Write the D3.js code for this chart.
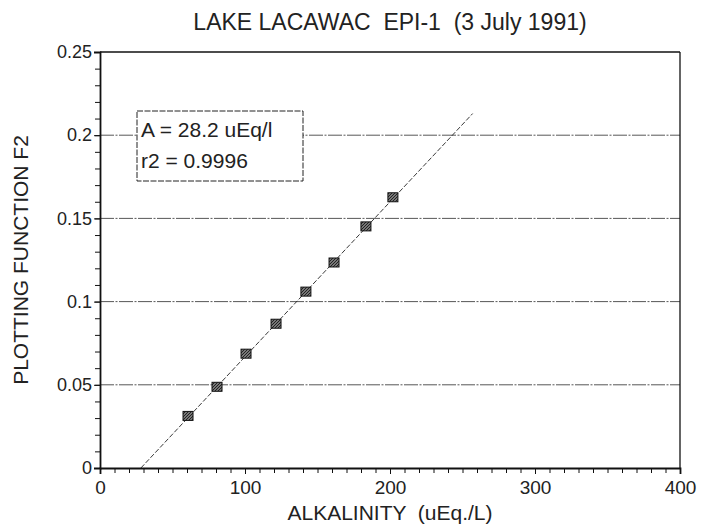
<!DOCTYPE html>
<html>
<head>
<meta charset="utf-8">
<script src="https://cdn.jsdelivr.net/npm/d3@7"></script>
<style>
  body { margin: 0; background: #fff; }
  text { font-family: "Liberation Sans", Arial, sans-serif; fill: #222; }
  .axis path, .axis line { stroke: #111; }
  .axis text { font-size: 19px; }
</style>
</head>
<body>
<div id="chart"></div>
<script>
var margin = { top: 52, right: 23, bottom: 61, left: 100 };
var w = 703, h = 529;

// data
var alkalinity = [60.7, 80.7, 100.7, 121.4, 142, 161.4, 183.4, 202];
var f2 = [0.0313, 0.0488, 0.0687, 0.0867, 0.106, 0.1235, 0.1452, 0.1627];
var fitX = [28.2, 257];
var fitY = [0, 0.213];
var xTicks = [0, 100, 200, 300, 400];
var yTicks = [0, 0.05, 0.1, 0.15, 0.2, 0.25];
var yTickLabels = ["0", "0.05", "0.1", "0.15", "0.2", "0.25"];
var gridY = [0.05, 0.1, 0.15, 0.2];
var legendLines = ["A = 28.2 uEq/l", "r2 = 0.9996"];

var svg = d3.select("#chart").append("svg")
  .attr("width", w)
  .attr("height", h);

// hatched fill for the markers
var pat = svg.append("defs").append("pattern")
  .attr("id", "hatch")
  .attr("patternUnits", "userSpaceOnUse")
  .attr("width", 3)
  .attr("height", 3);
pat.append("rect").attr("width", 3).attr("height", 3).attr("fill", "#777");
pat.append("path").attr("d", "M0,3L3,0").attr("stroke", "#222").attr("stroke-width", 1);

var xScale = d3.scaleLinear()
  .domain([0, 400])
  .range([margin.left, w - margin.right]);
var yScale = d3.scaleLinear()
  .domain([0, 0.25])
  .range([h - margin.bottom, margin.top]);

// grid lines
svg.selectAll(".grid")
  .data(gridY)
  .enter()
  .append("line")
  .attr("class", "grid")
  .attr("x1", xScale(0))
  .attr("x2", xScale(400))
  .attr("y1", function(d) { return yScale(d); })
  .attr("y2", function(d) { return yScale(d); })
  .attr("stroke", "#444")
  .attr("stroke-width", 0.9)
  .attr("stroke-dasharray", "14,1.5,2,1.5");

// frame top / right
svg.append("line")
  .attr("x1", xScale(0)).attr("x2", xScale(400))
  .attr("y1", yScale(0.25)).attr("y2", yScale(0.25))
  .attr("stroke", "#111").attr("stroke-width", 1.3);
svg.append("line")
  .attr("x1", xScale(400)).attr("x2", xScale(400))
  .attr("y1", yScale(0.25)).attr("y2", yScale(0))
  .attr("stroke", "#111").attr("stroke-width", 1.3);

// minor ticks
svg.append("g")
  .attr("class", "axis")
  .attr("transform", "translate(0," + yScale(0) + ")")
  .call(d3.axisBottom(xScale).tickValues(d3.range(0, 401, 10)).tickSize(5).tickFormat(""))
  .select(".domain").remove();
svg.append("g")
  .attr("class", "axis")
  .attr("transform", "translate(" + xScale(0) + ",0)")
  .call(d3.axisLeft(yScale).tickValues(d3.range(0, 26).map(function(i) { return i / 100; })).tickSize(5).tickFormat(""))
  .select(".domain").remove();

// major axes
var xAxis = d3.axisBottom(xScale)
  .tickValues(xTicks)
  .tickSize(6)
  .tickPadding(7)
  .tickFormat(d3.format("d"));
var yAxis = d3.axisLeft(yScale)
  .tickValues(yTicks)
  .tickSize(6)
  .tickPadding(2)
  .tickFormat(function(d, i) { return yTickLabels[i]; });

svg.append("g")
  .attr("class", "axis x-axis")
  .attr("transform", "translate(0," + yScale(0) + ")")
  .call(xAxis)
  .select(".domain").attr("stroke-width", 1.8);
svg.append("g")
  .attr("class", "axis y-axis")
  .attr("transform", "translate(" + xScale(0) + ",0)")
  .call(yAxis)
  .select(".domain").attr("stroke-width", 1.8);
svg.selectAll(".y-axis text").style("font-size", "18px");

// regression line
var line = d3.line()
  .x(function(d) { return xScale(d[0]); })
  .y(function(d) { return yScale(d[1]); });
svg.append("path")
  .datum(d3.zip(fitX, fitY))
  .attr("d", line)
  .attr("fill", "none")
  .attr("stroke", "#222")
  .attr("stroke-width", 0.9)
  .attr("stroke-dasharray", "5,2");

// points
svg.selectAll(".pt")
  .data(d3.zip(alkalinity, f2))
  .enter()
  .append("rect")
  .attr("class", "pt")
  .attr("x", function(d) { return xScale(d[0]) - 5; })
  .attr("y", function(d) { return yScale(d[1]) - 4.5; })
  .attr("width", 10)
  .attr("height", 9)
  .attr("fill", "url(#hatch)")
  .attr("stroke", "#111")
  .attr("stroke-width", 1);

// legend box
svg.append("rect")
  .attr("x", 137)
  .attr("y", 111)
  .attr("width", 166)
  .attr("height", 70)
  .attr("fill", "#fff")
  .attr("stroke", "#222")
  .attr("stroke-width", 1)
  .attr("stroke-dasharray", "6,1.5");
svg.selectAll(".legend")
  .data(legendLines)
  .enter()
  .append("text")
  .attr("class", "legend")
  .attr("x", 141)
  .attr("y", function(d, i) { return 137 + i * 31; })
  .style("font-size", "21px")
  .text(function(d) { return d; });

// titles
svg.append("text")
  .attr("x", (xScale(0) + xScale(400)) / 2)
  .attr("y", 30)
  .attr("text-anchor", "middle")
  .style("font-size", "23px")
  .style("white-space", "pre")
  .text("LAKE LACAWAC  EPI-1  (3 July 1991)");
svg.append("text")
  .attr("x", (xScale(0) + xScale(400)) / 2)
  .attr("y", 520)
  .attr("text-anchor", "middle")
  .style("font-size", "21px")
  .style("white-space", "pre")
  .text("ALKALINITY  (uEq./L)");
svg.append("text")
  .attr("transform", "translate(28," + (yScale(0.125)) + ")rotate(-90)")
  .attr("text-anchor", "middle")
  .style("font-size", "21px")
  .text("PLOTTING FUNCTION F2");
</script>
</body>
</html>
